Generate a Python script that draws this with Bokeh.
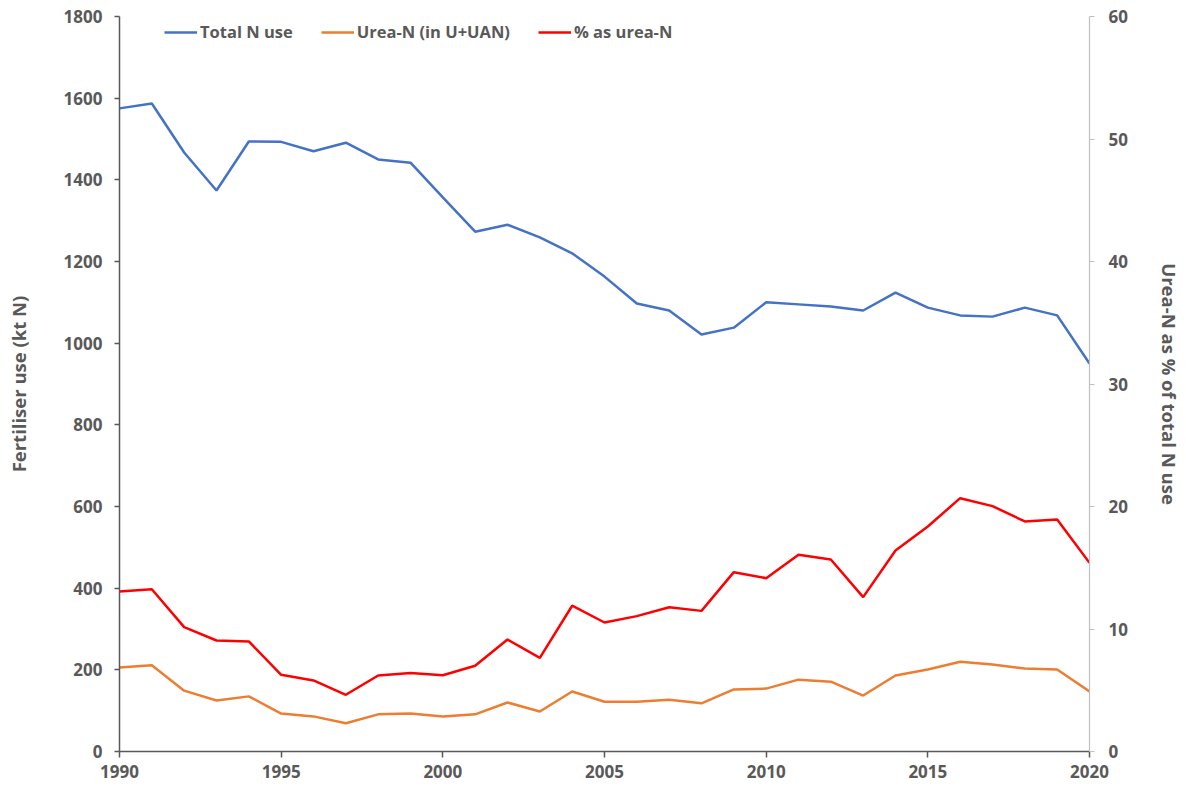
from bokeh.plotting import figure
from bokeh.models import Range1d, LinearAxis, FixedTicker, Legend, LegendItem
from bokeh.embed import file_html
from bokeh.resources import INLINE

years = list(range(1990, 2021))
total_n = [1575, 1587, 1467, 1374, 1494, 1493, 1470, 1491, 1450, 1442,
           1357, 1273, 1290, 1259, 1220, 1163, 1097, 1080, 1021, 1038,
           1100, 1095, 1090, 1080, 1124, 1087, 1068, 1065, 1087, 1068, 950]
urea_n = [206, 211, 149, 125, 135, 93, 86, 69, 91, 93,
          86, 91, 120, 98, 147, 122, 122, 127, 118, 152,
          154, 176, 171, 137, 186, 201, 220, 213, 203, 201, 147]
pct_urea = [13.06, 13.25, 10.15, 9.06, 8.98, 6.26, 5.80, 4.63, 6.20, 6.40,
            6.23, 7.00, 9.14, 7.65, 11.90, 10.53, 11.05, 11.78, 11.48, 14.64,
            14.15, 16.06, 15.67, 12.60, 16.41, 18.37, 20.68, 20.03, 18.78, 18.94, 15.40]

x_ticks = [1990, 1995, 2000, 2005, 2010, 2015, 2020]
left_ticks = list(range(0, 1801, 200))
right_ticks = list(range(0, 61, 10))

FONT = "Open Sans"
GREY = "#595959"
FS = "17px"

p = figure(frame_width=970, frame_height=735, output_backend="svg",
           toolbar_location=None, x_range=Range1d(1990, 2020),
           y_range=Range1d(0, 1800), min_border_left=119, min_border_top=16,
           min_border_bottom=36, min_border_right=80, outline_line_color=None)
p.extra_y_ranges = {"pct": Range1d(0, 60)}
p.xgrid.visible = False
p.ygrid.visible = False

r1 = p.line(years, total_n, line_color="#4472C4", line_width=2.5)
r2 = p.line(years, urea_n, line_color="#ED7D31", line_width=2.5)
r3 = p.line(years, pct_urea, line_color="#FF0000", line_width=2.5, y_range_name="pct")

def style(ax):
    ax.major_label_text_font = FONT
    ax.major_label_text_font_style = "bold"
    ax.major_label_text_font_size = FS
    ax.major_label_text_color = GREY
    ax.axis_label_text_font = FONT
    ax.axis_label_text_font_style = "bold"
    ax.axis_label_text_font_size = "18.5px"
    ax.axis_label_text_color = GREY
    ax.minor_tick_line_color = None
    ax.major_tick_in = 0

xa = p.xaxis[0]
style(xa)
xa.ticker = FixedTicker(ticks=x_ticks)
xa.axis_line_color = GREY
xa.axis_line_width = 1.5
xa.major_tick_line_color = GREY
xa.major_tick_line_width = 1.5
xa.major_tick_out = 6
xa.major_label_standoff = 7

ya = p.yaxis[0]
style(ya)
ya.ticker = FixedTicker(ticks=left_ticks)
ya.axis_line_color = GREY
ya.axis_line_width = 1.5
ya.major_tick_line_color = GREY
ya.major_tick_line_width = 1.5
ya.major_tick_out = 5
ya.major_label_standoff = 12
ya.axis_label = "Fertiliser use (kt N)"
ya.axis_label_standoff = 30

ra = LinearAxis(y_range_name="pct", ticker=FixedTicker(ticks=right_ticks))
style(ra)
ra.axis_line_color = "#BFBFBF"
ra.axis_line_width = 1.2
ra.major_tick_line_color = "#BFBFBF"
ra.major_tick_out = 5
ra.major_label_standoff = 14
ra.axis_label = "Urea-N as % of total N use"
ra.axis_label_standoff = 26
p.add_layout(ra, "right")

legend = Legend(items=[LegendItem(label="Total N use", renderers=[r1]),
                       LegendItem(label="Urea-N (in U+UAN)", renderers=[r2]),
                       LegendItem(label="% as urea-N", renderers=[r3])],
                orientation="horizontal", location=(45, 708))
legend.border_line_color = None
legend.background_fill_alpha = 0
legend.label_text_font = FONT
legend.label_text_font_style = "bold"
legend.label_text_font_size = "16.5px"
legend.label_text_color = GREY
legend.glyph_width = 33
legend.glyph_height = 20
legend.label_height = 20
legend.label_standoff = 3
legend.spacing = 28
legend.padding = 0
legend.margin = 0
p.add_layout(legend, "center")

open("out.html", "w").write(file_html(p, INLINE))
